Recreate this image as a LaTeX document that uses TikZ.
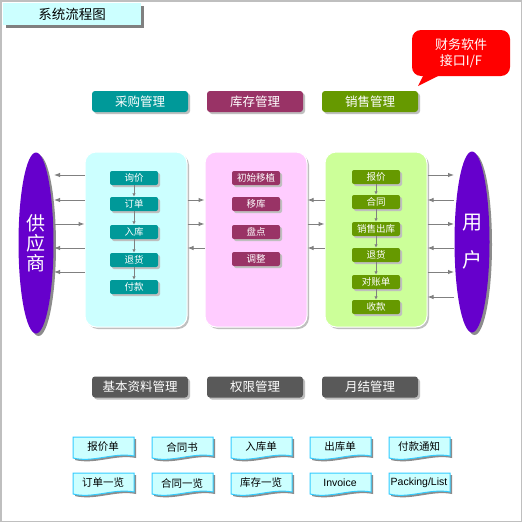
\documentclass[tikz,border=0pt]{standalone}
\usepackage{fontspec}
\setmainfont{Noto Sans CJK SC}
\newfontfamily\lat{Liberation Sans}
\usetikzlibrary{arrows.meta,shadows,shapes.geometric}
\definecolor{cyanlt}{HTML}{CCFFFF}
\definecolor{pinklt}{HTML}{FFCCFF}
\definecolor{greenlt}{HTML}{CCFF99}
\definecolor{tealc}{HTML}{009999}
\definecolor{maroonc}{HTML}{993366}
\definecolor{olivec}{HTML}{669900}
\definecolor{darkg}{HTML}{595959}
\definecolor{purp}{HTML}{6600CC}
\definecolor{docline}{HTML}{33CCFF}
\definecolor{arrg}{HTML}{808080}
\tikzset{
  shad/.style={drop shadow={shadow xshift=2.5pt,shadow yshift=-2.5pt,fill=black!45,opacity=1}},
  lshad/.style={drop shadow={shadow xshift=2pt,shadow yshift=-2pt,fill=black!25,opacity=1}},
  panel/.style={rounded corners=11pt, minimum width=102pt, minimum height=175pt, draw=white, line width=1pt, lshad},
  hdr/.style={rounded corners=3pt, minimum width=96pt, minimum height=21pt, inner sep=0pt, text=white, font=\fontsize{12.5}{14}\selectfont, lshad},
  ibox/.style={rounded corners=2pt, minimum width=48pt, minimum height=14pt, inner sep=0pt, text=white, font=\fontsize{9.5}{11}\selectfont, lshad},
  side/.style={ellipse, fill=purp, minimum width=35pt, minimum height=181pt, inner sep=0pt, text=white, align=center, shad},
  arr/.style={draw=arrg, line width=1pt, -{Latex[length=6pt,width=4.5pt]}},
  iarr/.style={draw=arrg, line width=1pt, -{Latex[length=3.5pt,width=3.5pt]}},
  doct/.style={inner sep=0pt, font=\fontsize{10.5}{12}\selectfont}
}
\newcommand\mydoc[4]{% name, x, y, text
  \fill[black!45] (#2-28,#3-9) -- (#2+33,#3-9) -- (#2+33,#3+10) .. controls (#2+13,#3+6) and (#2-8,#3+17) .. (#2-28,#3+12) -- cycle;
  \filldraw[fill=cyanlt, draw=docline, line width=1pt] (#2-30,#3-11) -- (#2+31,#3-11) -- (#2+31,#3+8) .. controls (#2+11,#3+4) and (#2-10,#3+15) .. (#2-30,#3+10) -- cycle;
  \node[doct] (#1) at (#2,#3-1) {#4};
}
\begin{document}
\begin{tikzpicture}[x=1pt,y=-1pt]
\useasboundingbox (0,0) rectangle (522,522);
\fill[white] (0,0) rectangle (522,522);
\draw[black!25, line width=1.5pt] (0.75,0.75) rectangle (521.25,521.25);

% title
\node[fill=cyanlt, minimum width=138pt, minimum height=22pt, inner sep=0pt,
  drop shadow={shadow xshift=3pt,shadow yshift=-3pt,fill=black!50,opacity=1},
  font=\fontsize{13.5}{15}\selectfont] (title) at (72,14) {系统流程图};

% callout
\fill[red, rounded corners=9pt] (412,30) rectangle (510,76);
\fill[red] (424,74) -- (418,86) -- (442,74) -- cycle;
\node[text=white, align=center, font=\fontsize{13}{16}\selectfont, inner sep=0pt] (callout) at (461,53) {财务软件\\接口I/F};

% top headers
\node[hdr, fill=tealc] (h1) at (140,101.5) {采购管理};
\node[hdr, fill=maroonc] (h2) at (255,101.5) {库存管理};
\node[hdr, fill=olivec] (h3) at (370,101.5) {销售管理};

% panels
\node[panel, fill=cyanlt] (pur) at (136,239.5) {};
\node[panel, fill=pinklt] (inv) at (256,239.5) {};
\node[panel, fill=greenlt] (sal) at (376,239.5) {};

% side ellipses
\node[side, font=\fontsize{19}{20}\selectfont] (sup) at (36,243) {供\\应\\商};
\node[side, font=\fontsize{20}{38}\selectfont] (usr) at (472,242) {用\\户};

% purchase boxes
\node[ibox, fill=tealc] (p1) at (134,178) {询价};
\node[ibox, fill=tealc] (p2) at (134,204) {订单};
\node[ibox, fill=tealc] (p3) at (134,232) {入库};
\node[ibox, fill=tealc] (p4) at (134,260) {退货};
\node[ibox, fill=tealc] (p5) at (134,287) {付款};
\foreach \a/\b in {p1/p2,p2/p3,p3/p4,p4/p5} \draw[iarr] (\a) -- (\b);

% inventory boxes
\node[ibox, fill=maroonc] (i1) at (256,178) {初始移植};
\node[ibox, fill=maroonc] (i2) at (256,204) {移库};
\node[ibox, fill=maroonc] (i3) at (256,232) {盘点};
\node[ibox, fill=maroonc] (i4) at (256,259) {调整};

% sales boxes
\node[ibox, fill=olivec] (s1) at (376,177) {报价};
\node[ibox, fill=olivec] (s2) at (376,202) {合同};
\node[ibox, fill=olivec] (s3) at (376,229) {销售出库};
\node[ibox, fill=olivec] (s4) at (376,255) {退货};
\node[ibox, fill=olivec] (s5) at (376,282) {对账单};
\node[ibox, fill=olivec] (s6) at (376,307) {收款};
\foreach \a/\b in {s1/s2,s2/s3,s3/s4,s4/s5,s5/s6} \draw[iarr] (\a) -- (\b);

% row levels
\coordinate (r1) at (0,175);
\coordinate (r2) at (0,200);
\coordinate (r3) at (0,224);
\coordinate (r4) at (0,248);
\coordinate (r5) at (0,272);
\coordinate (r6) at (0,297);
\coordinate (sx) at (54,0);
\coordinate (ux) at (454,0);

% supplier <-> purchase
\draw[arr] (pur.west |- r1) -- (sx |- r1);
\draw[arr] (pur.west |- r2) -- (sx |- r2);
\draw[arr] (sx |- r3) -- (pur.west |- r3);
\draw[arr] (pur.west |- r4) -- (sx |- r4);
\draw[arr] (pur.west |- r5) -- (sx |- r5);

% purchase <-> inventory
\draw[arr] (pur.east |- r2) -- (inv.west |- r2);
\draw[arr] (pur.east |- r3) -- (inv.west |- r3);
\draw[arr] (inv.west |- r4) -- (pur.east |- r4);

% inventory <-> sales
\draw[arr] (sal.west |- r2) -- (inv.east |- r2);
\draw[arr] (inv.east |- r3) -- (sal.west |- r3);
\draw[arr] (sal.west |- r4) -- (inv.east |- r4);

% sales <-> user
\draw[arr] (sal.east |- r1) -- (ux |- r1);
\draw[arr] (ux |- r2) -- (sal.east |- r2);
\draw[arr] (sal.east |- r3) -- (ux |- r3);
\draw[arr] (ux |- r4) -- (sal.east |- r4);
\draw[arr] (sal.east |- r5) -- (ux |- r5);
\draw[arr] (ux |- r6) -- (sal.east |- r6);

% bottom headers
\node[hdr, fill=darkg] (b1) at (140,387) {基本资料管理};
\node[hdr, fill=darkg] (b2) at (255,387) {权限管理};
\node[hdr, fill=darkg] (b3) at (370,387) {月结管理};

% documents
\mydoc{d1}{103}{448}{报价单}
\mydoc{d2}{182}{448}{合同书}
\mydoc{d3}{261}{448}{入库单}
\mydoc{d4}{340}{448}{出库单}
\mydoc{d5}{419}{448}{付款通知}
\mydoc{d6}{103}{484}{订单一览}
\mydoc{d7}{182}{484}{合同一览}
\mydoc{d8}{261}{484}{库存一览}
\mydoc{d9}{340}{484}{\lat Invoice}
\mydoc{d10}{419}{484}{\lat Packing/List}
\end{tikzpicture}
\end{document}
